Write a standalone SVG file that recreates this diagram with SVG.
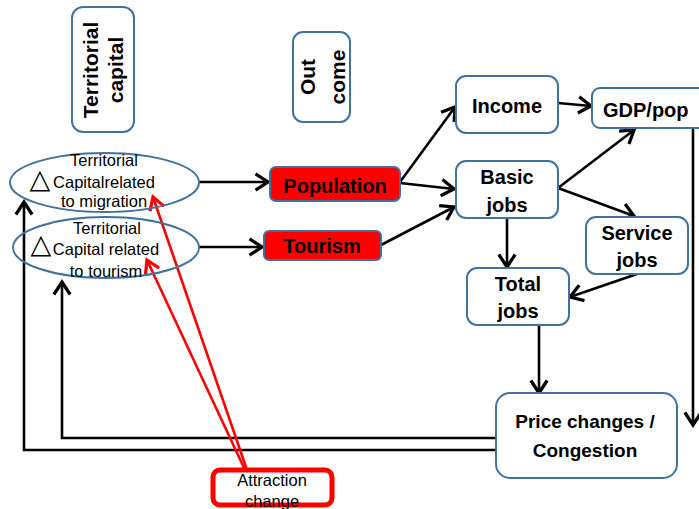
<svg xmlns="http://www.w3.org/2000/svg" width="699" height="509" viewBox="0 0 699 509">
<defs>
<marker id="ah" markerUnits="userSpaceOnUse" markerWidth="20" markerHeight="20" viewBox="-12 -8 14 16" refX="0" refY="0" orient="auto">
<path d="M-10,-6.5 L0,0 L-10,6.5" fill="none" stroke="#000" stroke-width="2.6" stroke-linejoin="miter"/>
</marker>
<marker id="ahr" markerUnits="userSpaceOnUse" markerWidth="20" markerHeight="20" viewBox="-12 -8 14 16" refX="0" refY="0" orient="auto">
<path d="M-10,-6 L0,0 L-10,6" fill="none" stroke="#ff0000" stroke-width="2.6"/>
</marker>
<style>
.box{fill:#fff;stroke:#41719C;stroke-width:2}
.red{fill:#ff0000;stroke:#41719C;stroke-width:2}
.ell{fill:none;stroke:#41719C;stroke-width:2}
.b{font-family:"Liberation Sans",Arial,sans-serif;font-weight:bold;font-size:20px;fill:#000;text-anchor:middle}
.r{font-family:"Liberation Sans",Arial,sans-serif;font-size:16.5px;fill:#000;text-anchor:middle}
.tri{font-family:"DejaVu Sans",sans-serif;font-size:27px;fill:#000;text-anchor:middle}
.c{fill:none;stroke:#000;stroke-width:2.6}
.cr{fill:none;stroke:#ff0000;stroke-width:2.6}
</style>
</defs>
<rect width="699" height="509" fill="#fff"/>

<g id="connectors">
<line class="c" x1="199" y1="182" x2="268" y2="182" marker-end="url(#ah)"/>
<line class="c" x1="199" y1="247" x2="262" y2="247" marker-end="url(#ah)"/>
<line class="c" x1="400" y1="182" x2="455" y2="107" marker-end="url(#ah)"/>
<line class="c" x1="400" y1="183" x2="454" y2="189" marker-end="url(#ah)"/>
<line class="c" x1="381" y1="245" x2="454" y2="207" marker-end="url(#ah)"/>
<line class="c" x1="558" y1="103" x2="591" y2="106" marker-end="url(#ah)"/>
<line class="c" x1="558" y1="188" x2="634" y2="130" marker-end="url(#ah)"/>
<line class="c" x1="558" y1="188" x2="634" y2="216" marker-end="url(#ah)"/>
<line class="c" x1="507" y1="218" x2="507" y2="267" marker-end="url(#ah)"/>
<line class="c" x1="637" y1="274" x2="570" y2="297" marker-end="url(#ah)"/>
<line class="c" x1="693" y1="128" x2="693" y2="425" marker-end="url(#ah)"/>
<line class="c" x1="539" y1="325" x2="539" y2="393" marker-end="url(#ah)"/>
<polyline class="c" points="496,438 62,438 62,282" marker-end="url(#ah)"/>
<polyline class="c" points="496,450 24,450 24,202" marker-end="url(#ah)"/>
<line class="cr" x1="247" y1="470" x2="153" y2="197" marker-end="url(#ahr)"/>
<line class="cr" x1="245" y1="470" x2="147" y2="260" marker-end="url(#ahr)"/>
</g>

<g id="territorial-capital">
<rect class="box" x="72" y="7" width="62" height="125" rx="11"/>
<text class="b" transform="translate(98,70) rotate(-90)" style="font-size:21px">Territorial</text>
<text class="b" transform="translate(123,70) rotate(-90)" style="font-size:21px">capital</text>
</g>

<g id="outcome">
<rect class="box" x="293" y="32" width="57" height="90" rx="10"/>
<text class="b" transform="translate(315,77) rotate(-90)" style="font-size:21px">Out</text>
<text class="b" transform="translate(345,77) rotate(-90)" style="font-size:21px">come</text>
</g>

<g id="tc-migration">
<ellipse class="ell" cx="104.5" cy="182.5" rx="94.5" ry="29.5"/>
<text class="tri" x="40" y="188">△</text>
<text class="r" x="104" y="166">Territorial</text>
<text class="r" x="104" y="188">Capitalrelated</text>
<text class="r" x="104" y="207">to migration</text>
</g>

<g id="tc-tourism">
<ellipse class="ell" cx="106" cy="247.5" rx="93" ry="30.5"/>
<text class="tri" x="41" y="253">△</text>
<text class="r" x="107" y="234">Territorial</text>
<text class="r" x="106" y="255">Capital related</text>
<text class="r" x="106" y="277">to tourism</text>
</g>

<g id="population">
<rect class="red" x="270" y="167" width="130" height="34" rx="6"/>
<text class="b" x="335" y="193">Population</text>
</g>

<g id="tourism">
<rect class="red" x="264" y="231" width="117" height="29" rx="5"/>
<text class="b" x="322" y="253">Tourism</text>
</g>

<g id="income">
<rect class="box" x="456" y="76" width="102" height="57" rx="10"/>
<text class="b" x="507" y="113">Income</text>
</g>

<g id="gdp-pop">
<rect class="box" x="592" y="88" width="115" height="40" rx="8"/>
<text class="b" x="603" y="117" style="text-anchor:start">GDP/pop</text>
</g>

<g id="basic-jobs">
<rect class="box" x="456" y="161" width="102" height="57" rx="10"/>
<text class="b" x="507" y="184">Basic</text>
<text class="b" x="507" y="212">jobs</text>
</g>

<g id="service-jobs">
<rect class="box" x="586" y="217" width="102" height="57" rx="10"/>
<text class="b" x="637" y="240">Service</text>
<text class="b" x="637" y="267">jobs</text>
</g>

<g id="total-jobs">
<rect class="box" x="467" y="268" width="102" height="57" rx="10"/>
<text class="b" x="518" y="291">Total</text>
<text class="b" x="518" y="318">jobs</text>
</g>

<g id="price-changes">
<rect class="box" x="496" y="393" width="181" height="85" rx="14"/>
<text class="b" x="585" y="428" style="font-size:19px">Price changes /</text>
<text class="b" x="585" y="457" style="font-size:19px">Congestion</text>
</g>

<g id="attraction-change">
<rect x="213" y="470" width="119" height="35" rx="7" fill="none" stroke="#ff0000" stroke-width="5"/>
<text class="r" x="272" y="486">Attraction</text>
<text class="r" x="272" y="507">change</text>
</g>
</svg>
